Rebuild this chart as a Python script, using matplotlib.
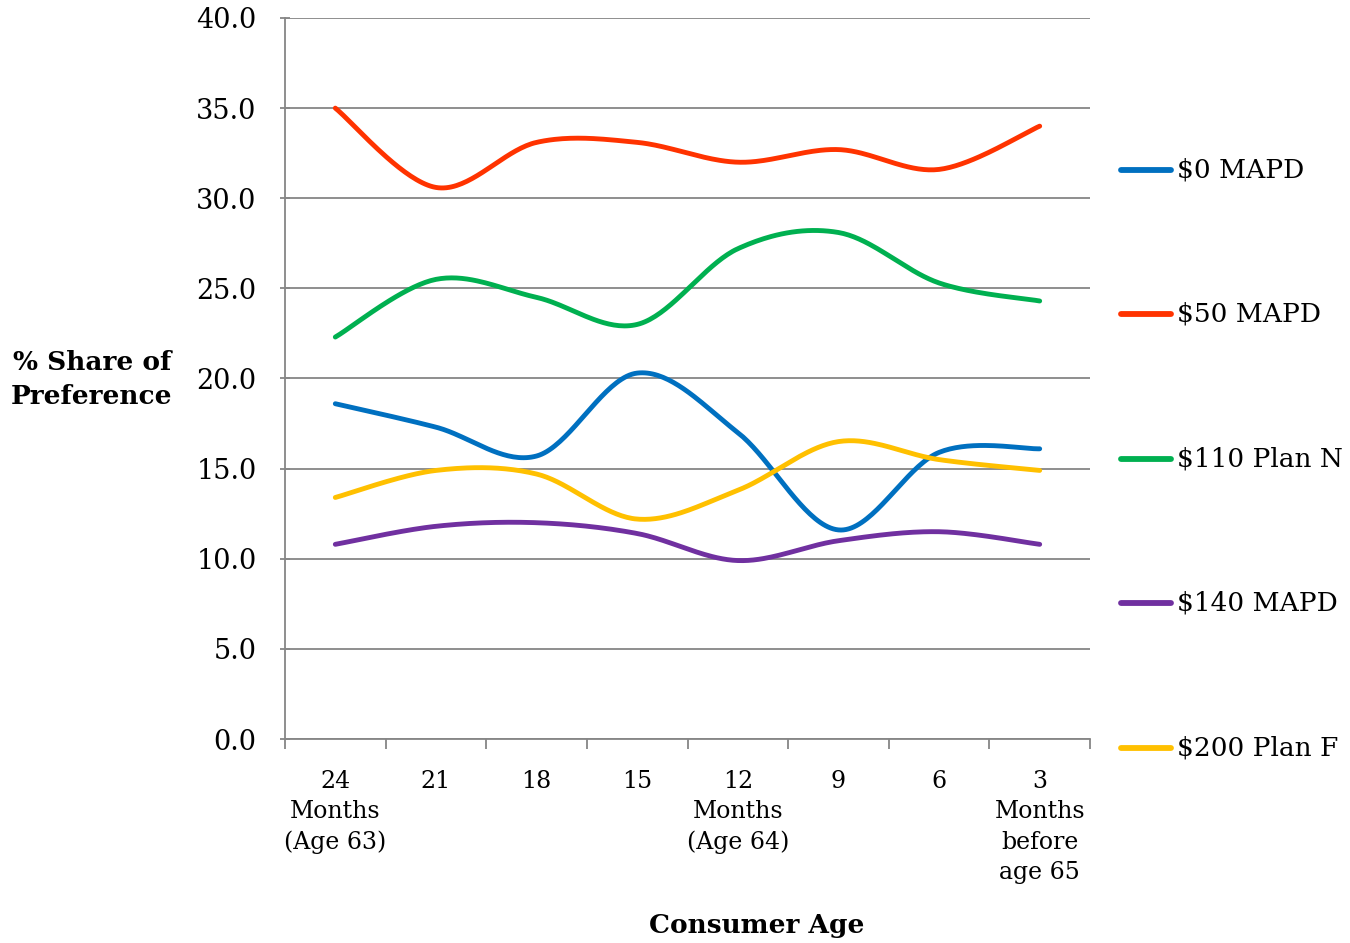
import numpy as np
import matplotlib
matplotlib.use("Agg")
import matplotlib.pyplot as plt
from matplotlib.lines import Line2D

plt.rcParams['font.family'] = ['DejaVu Serif']

categories = ["24\nMonths\n(Age 63)", "21", "18", "15", "12\nMonths\n(Age 64)",
              "9", "6", "3\nMonths\nbefore\nage 65"]

series_names = ["$0 MAPD", "$50 MAPD", "$110 Plan N", "$140 MAPD", "$200 Plan F"]
mapd_0 = [18.6, 17.3, 15.7, 20.3, 17.0, 11.6, 15.9, 16.1]
mapd_50 = [35.0, 30.6, 33.1, 33.1, 32.0, 32.7, 31.6, 34.0]
plan_n_110 = [22.3, 25.5, 24.5, 23.0, 27.2, 28.1, 25.3, 24.3]
mapd_140 = [10.8, 11.8, 12.0, 11.4, 9.9, 11.0, 11.5, 10.8]
plan_f_200 = [13.4, 14.9, 14.7, 12.2, 13.8, 16.5, 15.5, 14.9]

colors = ["#0070C0", "#FF3300", "#00B050", "#7030A0", "#FFC000"]
y_ticks = [0, 5, 10, 15, 20, 25, 30, 35, 40]


def smooth(xs, ys, n=40):
    """Cubic Bezier smoothing with control points from neighbouring points."""
    xs = np.asarray(xs, float)
    ys = np.asarray(ys, float)
    P = np.column_stack([xs, ys])
    out = [P[0]]
    for i in range(len(P) - 1):
        p0 = P[i - 1] if i > 0 else P[i]
        p1 = P[i]
        p2 = P[i + 1]
        p3 = P[i + 2] if i + 2 < len(P) else P[i + 1]
        c1 = p1 + (p2 - p0) / 6.0
        c2 = p2 - (p3 - p1) / 6.0
        t = np.linspace(0, 1, n)[1:, None]
        seg = ((1 - t) ** 3) * p1 + 3 * ((1 - t) ** 2) * t * c1 + 3 * (1 - t) * t ** 2 * c2 + t ** 3 * p2
        out.extend(seg)
    out = np.array(out)
    return out[:, 0], out[:, 1]


W, H = 1350, 943
fig = plt.figure(figsize=(W / 100, H / 100), dpi=100)
ax = fig.add_axes([285 / W, (H - 739) / H, (1090 - 285) / W, (739 - 18) / H])

x = np.arange(len(categories))
all_series = [mapd_0, mapd_50, plan_n_110, mapd_140, plan_f_200]
for vals, c in zip(all_series, colors):
    sx, sy = smooth(x, vals)
    ax.plot(sx, sy, color=c, lw=3.5, solid_capstyle='round', zorder=3)

grid_c = "#868686"
ax.set_xlim(-0.5, len(categories) - 0.5)
ax.set_ylim(0, 40)
ax.set_yticks(y_ticks)
ax.set_yticklabels([f"{v:.1f}" for v in y_ticks])
ax.yaxis.grid(True, color=grid_c, lw=1.3)
ax.set_axisbelow(True)
for s in ["top", "right"]:
    ax.spines[s].set_visible(False)
for s in ["left", "bottom"]:
    ax.spines[s].set_color(grid_c)
    ax.spines[s].set_linewidth(1.3)

ax.set_xticks(x)
ax.set_xticklabels(categories, fontsize=17, linespacing=1.42, va='top')
ax.tick_params(axis='x', which='major', length=0, pad=22)
ax.set_xticks(np.arange(-0.5, len(categories)), minor=True)
ax.tick_params(axis='x', which='minor', length=7, width=1.3, color=grid_c, direction='out')
ax.tick_params(axis='y', length=7, width=1.3, color=grid_c, direction='inout',
               labelsize=19.5, pad=17)

fig.text(92 / W, 1 - 380 / H, "% Share of\nPreference", ha='center', va='center',
         fontsize=19, fontweight='bold', linespacing=1.45)
fig.text(757 / W, 1 - 925 / H, "Consumer Age", ha='center', va='center',
         fontsize=19, fontweight='bold')

legend_y = [170, 314, 459, 603, 748]
for name, c, ly in zip(series_names, colors, legend_y):
    fig.add_artist(Line2D([1121 / W, 1171 / W], [1 - ly / H, 1 - ly / H],
                          color=c, lw=4.2, solid_capstyle='round'))
    fig.text(1177 / W, 1 - ly / H, name, ha='left', va='center', fontsize=19)

fig.savefig("out.png", dpi=100)
